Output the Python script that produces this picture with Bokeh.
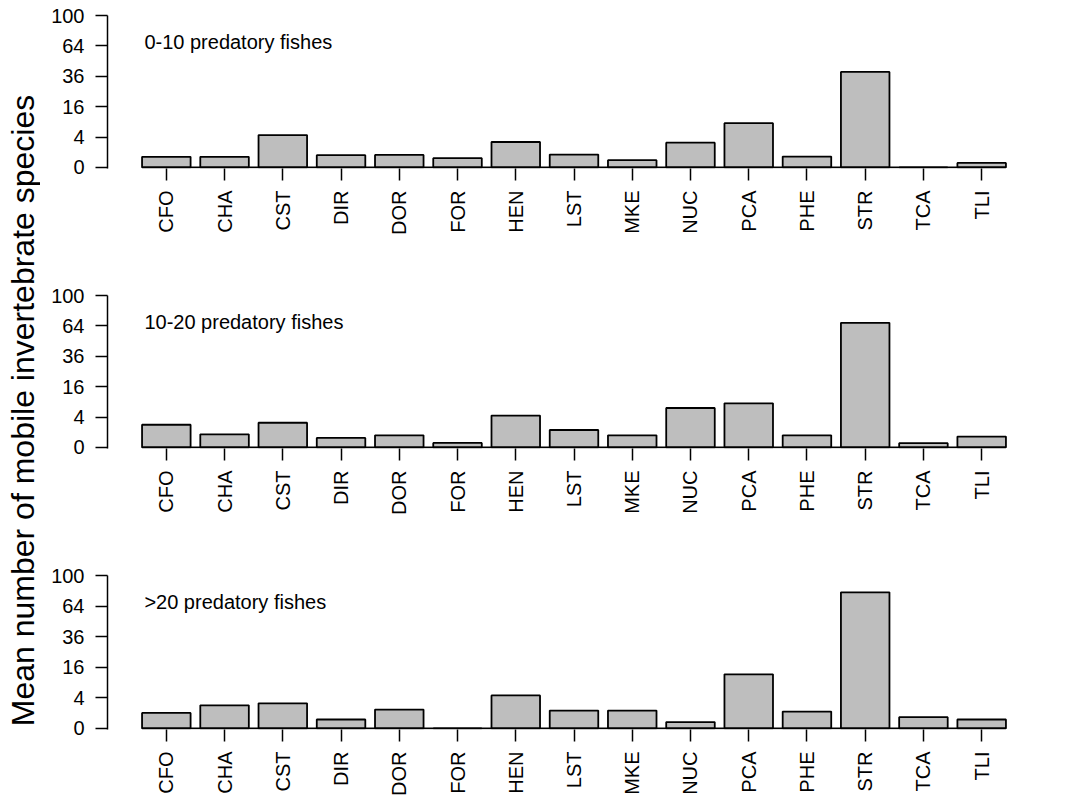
import math
from bokeh.plotting import figure
from bokeh.layouts import row, column
from bokeh.models import Range1d, FixedTicker
from bokeh.core.properties import value
from bokeh.embed import file_html
from bokeh.resources import INLINE

species = ["CFO", "CHA", "CST", "DIR", "DOR", "FOR", "HEN", "LST", "MKE",
           "NUC", "PCA", "PHE", "STR", "TCA", "TLI"]
low_pred = [0.49, 0.49, 4.54, 0.65, 0.68, 0.37, 2.8, 0.72, 0.23, 2.66, 8.5, 0.51, 39.5, 0.0, 0.09]
mid_pred = [2.23, 0.75, 2.64, 0.39, 0.64, 0.09, 4.4, 1.32, 0.64, 6.74, 8.41, 0.64, 67.3, 0.08, 0.51]
high_pred = [1.03, 2.29, 2.69, 0.34, 1.52, 0.0, 4.66, 1.36, 1.36, 0.17, 12.5, 1.21, 79.2, 0.54, 0.34]
panel_titles = ["0-10 predatory fishes", "10-20 predatory fishes", ">20 predatory fishes"]
y_tick_values = [0, 4, 16, 36, 64, 100]
y_title = "Mean number of mobile invertebrate species"

FONT = "Liberation Sans"
BAR_W = 1 / 1.2
xs = list(range(len(species)))


def make_panel(vals, title, height, bottom_border):
    p = figure(width=1020, height=height,
               x_range=Range1d(-1.01, 15.01), y_range=Range1d(-0.07, 10),
               output_backend="svg", toolbar_location=None,
               min_border_left=67, min_border_right=20,
               min_border_top=15, min_border_bottom=bottom_border)
    p.outline_line_color = None
    p.grid.visible = False
    sq = [math.sqrt(v) for v in vals]
    p.vbar(x=xs, top=sq, bottom=0, width=BAR_W, fill_color="#BEBEBE",
           line_color="black", line_width=1.8)
    p.segment(x0=[xs[0] - BAR_W / 2], y0=[0], x1=[xs[-1] + BAR_W / 2], y1=[0],
              line_color="black", line_width=1.8)
    p.text(x=[xs[0] - BAR_W / 2 + 0.04], y=[8.26], text=[title],
           text_font=value(FONT), text_font_size="20px",
           text_baseline="middle", text_align="left", text_color="black")

    ya = p.yaxis[0]
    ya.ticker = FixedTicker(ticks=[math.sqrt(t) for t in y_tick_values])
    ya.major_label_overrides = {math.sqrt(t): str(t) for t in y_tick_values}
    ya.major_label_text_font = FONT
    ya.major_label_text_font_size = "20px"
    ya.major_label_text_color = "black"
    ya.major_tick_out = 12
    ya.major_tick_in = 0
    ya.minor_tick_line_color = None
    ya.axis_line_width = 1.5
    ya.axis_line_color = "black"
    ya.major_tick_line_width = 1.5
    ya.major_tick_line_color = "black"
    ya.major_label_standoff = 11

    xa = p.xaxis[0]
    xa.ticker = FixedTicker(ticks=xs)
    xa.major_label_overrides = {i: s for i, s in zip(xs, species)}
    xa.major_label_orientation = math.pi / 2
    xa.major_label_text_font = FONT
    xa.major_label_text_font_size = "20px"
    xa.major_label_text_color = "black"
    xa.axis_line_color = None
    xa.major_tick_out = 12
    xa.major_tick_in = 0
    xa.minor_tick_line_color = None
    xa.major_tick_line_width = 1.5
    xa.major_tick_line_color = "black"
    xa.major_label_standoff = 10
    return p


p1 = make_panel(low_pred, panel_titles[0], 280, 112)
p2 = make_panel(mid_pred, panel_titles[1], 280, 112)
p3 = make_panel(high_pred, panel_titles[2], 240, 71)

lab = figure(width=40, height=800, x_range=Range1d(0, 40), y_range=Range1d(800, 0),
             output_backend="svg", toolbar_location=None,
             x_axis_type=None, y_axis_type=None, min_border=0)
lab.outline_line_color = None
lab.grid.visible = False
lab.text(x=[22], y=[410], text=[y_title], angle=math.pi / 2,
         text_font=value(FONT), text_font_size="32px",
         text_align="center", text_baseline="middle", text_color="black")

layout = row(lab, column(p1, p2, p3))
open("out.html", "w").write(file_html(layout, INLINE))
